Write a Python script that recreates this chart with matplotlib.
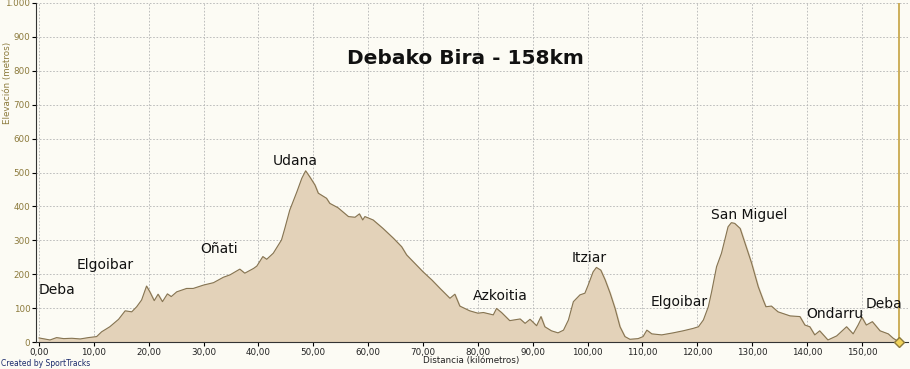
import matplotlib.pyplot as plt
import numpy as np

# perfil de elevacion (km, metros)
distancia = [0.0, 1.0, 2.0, 3.2, 4.5, 6.0, 7.5, 9.0, 10.5, 11.4, 12.9, 14.5, 15.7, 16.9,
             17.8, 18.7, 19.6, 20.2, 21.0, 21.7, 22.5, 23.4, 24.1, 25.1, 26.9, 28.1,
             30.0, 31.8, 33.6, 34.8, 36.6, 37.5, 39.1, 39.7, 40.8, 41.5, 42.7, 44.2,
             44.8, 45.7, 47.0, 47.9, 48.6, 49.4, 50.3, 50.9, 52.4, 53.0, 54.5, 56.4,
             57.6, 58.4, 59.0, 59.4, 60.9, 62.7, 64.6, 66.1, 67.0, 68.8, 70.0, 71.6,
             73.1, 74.9, 75.8, 76.7, 78.5, 80.0, 81.0, 82.8, 83.4, 84.3, 85.8, 87.7,
             88.6, 89.5, 90.7, 91.5, 92.2, 93.4, 94.6, 95.6, 96.5, 97.4, 98.6, 99.5,
             100.1, 101.0, 101.6, 102.4, 103.2, 104.1, 105.0, 105.9, 106.8, 107.7,
             109.2, 110.1, 110.8, 111.7, 113.5, 115.6, 117.4, 119.2, 120.2, 121.1,
             122.0, 122.6, 123.5, 124.4, 125.0, 125.6, 126.2, 126.8, 127.8, 128.7,
             129.9, 131.1, 132.0, 132.5, 133.5, 134.7, 136.9, 138.7, 139.6, 140.5,
             141.4, 142.3, 143.8, 145.4, 147.2, 148.4, 149.3, 150.0, 150.8, 151.9,
             153.3, 154.8, 155.7, 156.7]
elevacion = [12, 9, 6, 13, 10, 11, 9, 13, 16, 30, 45, 67, 92, 89,
             104, 124, 165, 148, 122, 141, 119, 142, 134, 148, 158, 158,
             168, 175, 191, 198, 215, 203, 217, 224, 252, 244, 262, 301,
             335, 389, 443, 483, 505, 486, 463, 439, 424, 409, 396, 370,
             368, 378, 360, 370, 360, 335, 306, 281, 257, 227, 207, 183,
             158, 129, 141, 106, 92, 85, 87, 80, 99, 87, 63, 68,
             55, 67, 48, 75, 45, 33, 27, 35, 65, 119, 139, 144,
             168, 207, 220, 212, 183, 144, 99, 45, 16, 8,
             10, 16, 35, 24, 21, 27, 33, 40, 45, 65,
             104, 148, 222, 262, 301, 340, 352, 350, 335, 291,
             232, 163, 124, 104, 106, 89, 77, 75, 50, 45,
             21, 33, 6, 18, 45, 24, 50, 73, 50, 60,
             33, 24, 11, 1]

# etiquetas de lugares (nombre, km, elevacion)
lugares = ["Deba", "Elgoibar", "Oñati", "Udana", "Azkoitia", "Itziar",
           "Elgoibar", "San Miguel", "Ondarru", "Deba"]
lugar_km = [0.0, 6.8, 29.3, 42.6, 79.0, 97.1, 111.5, 122.5, 139.8, 150.7]
lugar_elev = [153, 227, 274, 534, 136, 248, 118, 375, 83, 112]

x_ticks = np.arange(0, 151, 10)
y_ticks = np.arange(0, 1001, 100)

fondo = "#fcfbf4"
oliva = "#8c7a3c"

fig = plt.figure(figsize=(9.1, 3.69), dpi=100, facecolor=fondo)
ax = fig.add_axes([36 / 910, 27 / 369, 872 / 910, 339 / 369])
ax.set_facecolor(fondo)

ax.fill_between(distancia, elevacion, 0, color="#e3d2b9", zorder=2)
ax.plot(distancia, elevacion, color="#857452", linewidth=0.8, zorder=3)

# marcador final
ax.axvline(distancia[-1], color="#c9a94e", linewidth=1.3, zorder=4)
ax.plot(distancia[-1], 0, marker="D", markersize=5, color="#f1d35a",
        markeredgecolor="#8c7a3c", clip_on=False, zorder=5)

ax.set_xlim(-0.55, 158.4)
ax.set_ylim(0, 1000)
ax.set_xticks(x_ticks)
ax.set_xticklabels([f"{v},00" for v in x_ticks], fontsize=6.3, color="#222222")
ax.set_yticks(y_ticks)
ax.set_yticklabels(["1.000" if v == 1000 else str(v) for v in y_ticks],
                   fontsize=6.3, color=oliva)
ax.tick_params(axis="both", length=3, width=0.8, pad=1)
ax.grid(color="#b4b4b4", linestyle=(0, (2, 2)), linewidth=0.6, zorder=1)

for s in ["top", "right"]:
    ax.spines[s].set_visible(False)
ax.spines["left"].set_color("#333333")
ax.spines["bottom"].set_color("#333333")

for nombre, km, el in zip(lugares, lugar_km, lugar_elev):
    ax.text(km, el, nombre, fontsize=10, ha="left", va="center", color="#111111", zorder=6)

fig.text(465 / 910, 1 - 59 / 369, "Debako Bira - 158km", fontsize=14.5,
         fontweight="bold", ha="center", va="center", color="#111111")
fig.text(8 / 910, 1 - 83 / 369, "Elevación (metros)", rotation=90, fontsize=6.3,
         color=oliva, ha="center", va="center")
fig.text(471 / 910, 1 - 361 / 369, "Distancia (kilómetros)", fontsize=6.3,
         color="#222222", ha="center", va="center")
fig.text(1 / 910, 1 - 364 / 369, "Created by SportTracks", fontsize=5.5,
         color="#1a2a6c", ha="left", va="center")

fig.savefig("out.png", dpi=100, facecolor=fondo)
